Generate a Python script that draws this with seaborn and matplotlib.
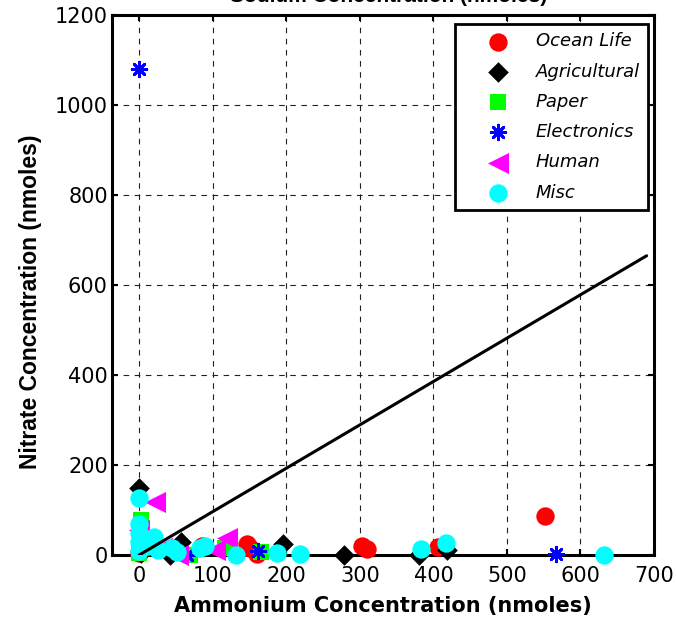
import numpy as np
import pandas as pd
import matplotlib
matplotlib.use("Agg")
import matplotlib.pyplot as plt
import seaborn as sns

# ---- data ----
ocean_x = [0, 85, 147, 150, 160, 303, 310, 406, 552]
ocean_y = [5, 20, 25, 15, 3, 20, 14, 18, 87]

agri_x = [0, 3, 42, 57, 195, 279, 380, 418]
agri_y = [150, 5, 0, 28, 25, 0, 0, 11]

paper_x = [2, 0, 69, 116, 166]
paper_y = [78, 5, 0, 15, 7]

elec_x = [0, 65, 161, 567]
elec_y = [1080, 0, 9, 2]

human_x = [21, 0, 31, 53, 103, 120, 10]
human_y = [118, 55, 15, 0, 11, 38, 25]

misc_x = [0, 0, 0, 0, 0, 10, 20, 25, 45, 51, 83, 90, 131, 188, 219, 383, 417, 632]
misc_y = [127, 70, 50, 30, 8, 20, 40, 12, 15, 7, 15, 20, 0, 4, 2, 13, 27, 0]

line_x = [0, 690]
line_y = [0, 665]

categories = ["Ocean Life", "Agricultural", "Paper", "Electronics", "Human", "Misc"]
xticks = [0, 100, 200, 300, 400, 500, 600, 700]
yticks = [0, 200, 400, 600, 800, 1000, 1200]

series = {
    "Ocean Life": (ocean_x, ocean_y),
    "Agricultural": (agri_x, agri_y),
    "Paper": (paper_x, paper_y),
    "Electronics": (elec_x, elec_y),
    "Human": (human_x, human_y),
    "Misc": (misc_x, misc_y),
}
df = pd.concat(
    [pd.DataFrame({"x": v[0], "y": v[1], "cat": k}) for k, v in series.items()],
    ignore_index=True,
)

sns.set_theme(style="white")
plt.rcParams["font.family"] = ["DejaVu Sans"]
plt.rcParams["text.color"] = "black"
plt.rcParams["axes.labelcolor"] = "black"

styles = {
    "Ocean Life": dict(color="#ff0000", marker="o", s=175, lw=0),
    "Agricultural": dict(color="#000000", marker="D", s=110, lw=0),
    "Paper": dict(color="#00ff00", marker="s", s=120, lw=0),
    "Electronics": dict(color="#0000ff", marker=(8, 2, 0), s=110, lw=2.0),
    "Human": dict(color="#ff00ff", marker="<", s=230, lw=0),
    "Misc": dict(color="#00ffff", marker="o", s=175, lw=0),
}

fig = plt.figure(figsize=(6.76, 6.20), dpi=100)
ax = fig.add_axes([112 / 676, 65 / 620, 542 / 676, 540 / 620])

for i, cat in enumerate(categories):
    st = styles[cat]
    sub = df[df["cat"] == cat]
    if st["lw"] > 0:
        sns.scatterplot(data=sub, x="x", y="y", ax=ax, color=st["color"],
                        marker=st["marker"], s=st["s"], linewidth=st["lw"],
                        edgecolor=st["color"], label=cat, clip_on=False,
                        zorder=3 + i)
    else:
        sns.scatterplot(data=sub, x="x", y="y", ax=ax, color=st["color"],
                        marker=st["marker"], s=st["s"], linewidth=0,
                        label=cat, clip_on=False, zorder=3 + i)

sns.lineplot(x=line_x, y=line_y, ax=ax, color="black", linewidth=2.2,
             zorder=20, legend=False)

ax.set_xlim(-37, 700)
ax.set_ylim(0, 1200)
ax.set_xticks(xticks)
ax.set_yticks(yticks)
ax.set_xticklabels([str(t) for t in xticks])
ax.set_yticklabels([str(t) for t in yticks])

ax.grid(True, color="#222222", linestyle=(0, (5, 5)), linewidth=0.8)
ax.set_axisbelow(True)
for sp in ax.spines.values():
    sp.set_visible(True)
    sp.set_color("black")
    sp.set_linewidth(2.2)
    sp.set_zorder(2)

ax.tick_params(axis="both", which="both", direction="in", length=4, width=1.5,
               top=True, right=True, bottom=True, left=True, labelsize=15,
               colors="black")
ax.tick_params(axis="x", pad=8)
ax.tick_params(axis="y", pad=3)

ax.set_xlabel("Ammonium Concentration (nmoles)", fontsize=15, fontweight="bold",
              color="black")
ax.xaxis.set_label_coords(0.5, -0.076)
ax.set_ylabel("Nitrate Concentration (nmoles)", fontsize=16.5, fontweight="bold",
              family=["Liberation Sans", "DejaVu Sans"], color="black")
ax.yaxis.set_label_coords(-0.13, 0.469)
ax.set_title("Sodium Concentration (nmoles)", fontsize=15, fontweight="bold",
             family=["Liberation Sans", "DejaVu Sans"], pad=9, x=0.51,
             color="black")

leg = ax.legend(loc="upper right", bbox_to_anchor=(0.989, 0.983),
                borderaxespad=0, frameon=True, fancybox=False, shadow=False,
                prop={"style": "italic", "size": 13}, labelspacing=0.68,
                handlelength=3.8, handletextpad=0.2, borderpad=0.45,
                scatterpoints=1)
leg.get_frame().set_edgecolor("black")
leg.get_frame().set_linewidth(2.0)
leg.get_frame().set_facecolor("white")
leg.get_frame().set_alpha(1)
leg.set_zorder(30)
for t in leg.get_texts():
    t.set_color("black")

fig.savefig("out.png", dpi=100)
